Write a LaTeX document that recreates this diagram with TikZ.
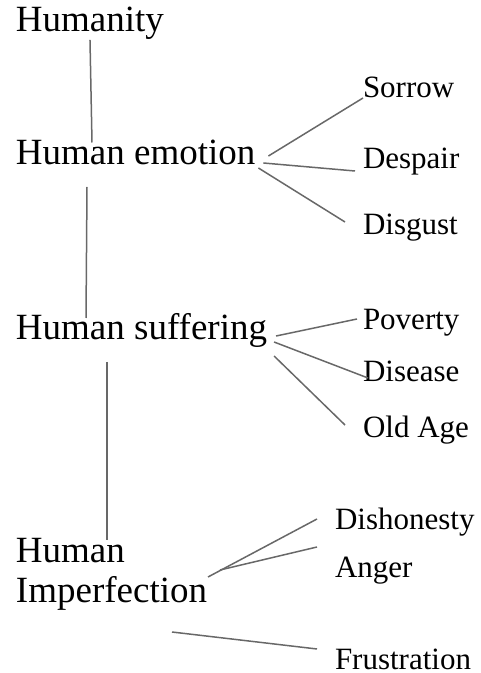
\documentclass[tikz,border=0pt]{standalone}
\usepackage{fontspec}
\setmainfont{Liberation Serif}
\usepackage{xcolor}
\usetikzlibrary{positioning}
\definecolor{linkgray}{RGB}{104,104,104}

\begin{document}
\begin{tikzpicture}[x=1pt, y=1pt,
  every node/.style={inner sep=0pt, outer sep=0pt},
  big/.style={font=\fontsize{37}{40}\selectfont, anchor=base west},
  small/.style={font=\fontsize{31}{36}\selectfont, anchor=base west},
  link/.style={draw=linkgray, line width=1.5pt}]
\useasboundingbox (0,0) rectangle (481,673);

% main chain
\node[big] (hum) at (16,641) {Humanity};
\node[big] (emo) at (16,508) {Human emotion};
\node[big] (suf) at (16,333) {Human suffering};
\node[big, anchor=north west, align=left] (imp) at (16,135) {Human\\Imperfection};

% branches
\node[small] (sor) at (363,575) {Sorrow};
\node[small] (des) at (363,504) {Despair};
\node[small] (dis) at (363,438) {Disgust};
\node[small] (pov) at (363,343) {Poverty};
\node[small] (dise) at (363,291) {Disease};
\node[small] (old) at (363,235) {Old Age};
\node[small] (hon) at (335,143) {Dishonesty};
\node[small] (ang) at (335,95) {Anger};
\node[small] (fru) at (335,4) {Frustration};

\draw[link] (hum.south) -- ([xshift=76pt,yshift=-2pt]emo.north west);
\draw[link] ([xshift=71pt,yshift=-22pt]emo.base west) -- ([xshift=70pt,yshift=22pt]suf.base west);
\draw[link] ([xshift=91pt,yshift=-22pt]suf.base west) -- ([xshift=91pt,yshift=-2pt]imp.north west);

\draw[link] ([xshift=13pt,yshift=9pt]emo.base east) -- (sor.base west);
\draw[link] ([xshift=8pt,yshift=2pt]emo.base east) -- ([xshift=-8pt,yshift=-2pt]des.base west);
\draw[link] ([xshift=3pt,yshift=-3pt]emo.base east) -- ([xshift=-18pt,yshift=13pt]dis.base west);

\draw[link] ([xshift=9pt,yshift=4pt]suf.base east) -- ([xshift=-6pt,yshift=11pt]pov.base west);
\draw[link] ([xshift=7pt,yshift=-2pt]suf.base east) -- ([xshift=5pt,yshift=4pt]dise.base west);
\draw[link] ([xshift=7pt,yshift=-16pt]suf.base east) -- ([xshift=-18pt,yshift=13pt]old.base west);

\draw[link] ([xshift=192pt,yshift=-39pt]imp.north west) -- ([xshift=-18pt,yshift=11pt]hon.base west);
\draw[link] ([xshift=204pt,yshift=-32pt]imp.north west) -- ([xshift=-18pt,yshift=31pt]ang.base west);
\draw[link] ([xshift=156pt,yshift=-94pt]imp.north west) -- ([xshift=-18pt,yshift=20pt]fru.base west);

\end{tikzpicture}
\end{document}
